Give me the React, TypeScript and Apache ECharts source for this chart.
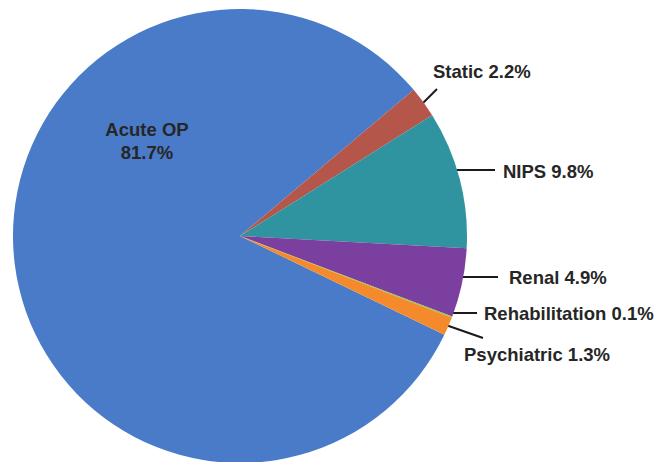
import React, { useEffect, useRef } from "react";
import * as echarts from "echarts";

const categories = ["Acute OP", "Static", "NIPS", "Renal", "Rehabilitation", "Psychiatric"];
const values = [81.7, 2.2, 9.8, 4.9, 0.1, 1.3];
const colors = ["#4a7bc9", "#b4574a", "#2f93a0", "#7b3f9f", "#8cc63f", "#f58a2c"];

// label placement (text anchor + leader line), by category index
const labelLayouts: any[] = [
  { x: 147, y: 141, align: "center", line: null },
  { x: 433, y: 71, align: "left", line: [[413, 113], [437, 89], [437, 89]] },
  { x: 503, y: 171, align: "left", line: [[446, 170], [495, 170], [495, 170]] },
  { x: 509, y: 277, align: "left", line: [[446, 277], [498, 277], [498, 277]] },
  { x: 484, y: 313, align: "left", line: [[451, 313], [477, 313], [477, 313]] },
  { x: 464, y: 354, align: "left", line: [[443, 324], [483, 338], [483, 338]] },
];

export default function App() {
  const ref = useRef<HTMLDivElement>(null);
  useEffect(() => {
    if (!ref.current) return;
    const chart = echarts.init(ref.current, null, { renderer: "svg" });
    chart.setOption({
      animation: false,
      backgroundColor: "#ffffff",
      series: [
        {
          type: "pie",
          center: [240, 236],
          radius: 227,
          startAngle: 334.2,
          clockwise: true,
          avoidLabelOverlap: false,
          itemStyle: { borderWidth: 0 },
          label: {
            show: true,
            position: "outside",
            color: "#262626",
            fontFamily: "Liberation Sans",
            fontWeight: "bold",
            fontSize: 18.5,
            lineHeight: 23,
            formatter: (p: any) =>
              p.dataIndex === 0 ? `${p.name}\n${p.value}%` : `${p.name} ${p.value}%`,
          },
          labelLine: {
            show: true,
            lineStyle: { color: "#1a1a1a", width: 2 },
          },
          labelLayout: (p: any) => {
            const l = labelLayouts[p.dataIndex];
            const r: any = { x: l.x, y: l.y, align: l.align, verticalAlign: "middle" };
            if (l.line) r.labelLinePoints = l.line;
            return r;
          },
          data: categories.map((name, i) => ({
            name,
            value: values[i],
            itemStyle: { color: colors[i] },
            ...(i === 0
              ? { label: { position: "inside", align: "center" }, labelLine: { show: false } }
              : {}),
          })),
        },
      ],
    });
    return () => chart.dispose();
  }, []);
  return (
    <div
      ref={ref}
      style={{ position: "absolute", left: 0, top: 0, width: 659, height: 462 }}
    />
  );
}
